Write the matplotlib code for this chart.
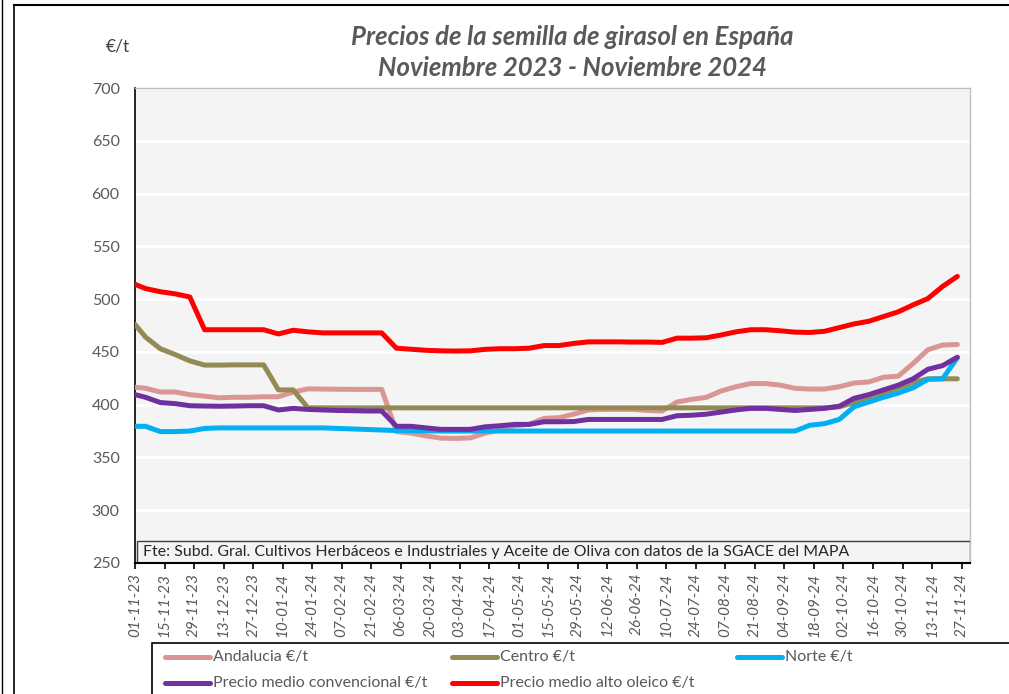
import matplotlib
matplotlib.use("Agg")
import matplotlib.pyplot as plt
from matplotlib.patches import Rectangle
from matplotlib.lines import Line2D
import pandas as pd

plt.rcParams['font.family'] = ['Lato', 'DejaVu Sans']

dates = ["2023-11-01",
         "2023-11-06", "2023-11-13", "2023-11-20", "2023-11-27",
         "2023-12-04", "2023-12-11", "2023-12-18", "2023-12-25",
         "2024-01-01", "2024-01-08", "2024-01-15", "2024-01-22", "2024-01-29",
         "2024-02-05", "2024-02-12", "2024-02-19", "2024-02-26",
         "2024-03-04", "2024-03-11", "2024-03-18", "2024-03-25",
         "2024-04-01", "2024-04-08", "2024-04-15", "2024-04-22", "2024-04-29",
         "2024-05-06", "2024-05-13", "2024-05-20", "2024-05-27",
         "2024-06-03", "2024-06-10", "2024-06-17", "2024-06-24",
         "2024-07-01", "2024-07-08", "2024-07-15", "2024-07-22", "2024-07-29",
         "2024-08-05", "2024-08-12", "2024-08-19", "2024-08-26",
         "2024-09-02", "2024-09-09", "2024-09-16", "2024-09-23", "2024-09-30",
         "2024-10-07", "2024-10-14", "2024-10-21", "2024-10-28",
         "2024-11-04", "2024-11-11", "2024-11-18", "2024-11-25"]

andalucia = [416.5, 415.5, 412, 412, 409.5, 408, 406.5, 407, 407, 407.5,
             407.5, 412, 415, 414.8, 414.6, 414.5, 414.5, 414.5, 374.5, 373,
             370.5, 368.3, 368, 368.5, 373, 376, 380, 381.5, 387, 387.6,
             391, 395, 395.5, 395.5, 395.5, 394.5, 394, 402.5, 405, 407,
             413, 417, 420, 420, 418.5, 415.5, 414.8, 414.8, 417, 420.5,
             421.5, 426, 427, 439, 452, 456.5, 457]

centro = [476, 464, 453, 447.5, 441.5, 437.5, 437.5, 437.7, 437.7, 437.7,
          414, 414, 397, 397, 397, 397, 397, 397, 397, 397,
          397, 397, 397, 397, 397, 397, 397, 397, 397, 397,
          397, 397, 397, 397, 397, 397, 397, 397, 397, 397,
          397, 397, 397, 397, 397, 397, 397, 397, 398, 402,
          407, 411, 416, 421, 424.5, 424.5, 424.5]

norte = [379.5, 379.5, 374.5, 374.5, 375, 377.5, 378, 378, 378, 378,
         378, 378, 378, 378, 377.5, 377, 376.5, 376, 375.5, 375.3,
         375.2, 375, 375, 375, 375, 375, 375, 375, 375, 375,
         375, 375, 375, 375, 375, 375, 375, 375, 375, 375,
         375, 375, 375, 375, 375, 375, 380.5, 382, 386, 398,
         402.5, 407, 411, 416, 424, 424.5, 444.5]

convencional = [409.5, 407, 402, 401, 399, 398.7, 398.5, 398.7, 399, 399,
                395, 396.5, 395.5, 395, 394.5, 394.3, 394, 394, 379.5, 379.5,
                378, 376.6, 376.6, 376.6, 379, 380, 381.3, 381.3, 383.8, 383.8,
                384, 386, 386, 386, 386, 386, 386, 389.5, 390, 391,
                393, 395, 396.5, 396.5, 395.5, 394.5, 395.5, 396.5, 398.5, 406,
                409.5, 414, 418.5, 424.5, 433.5, 437, 445]

alto_oleico = [514, 510, 507, 505, 502, 471, 471, 471, 471, 471,
               467, 470.5, 469, 468, 468, 468, 468, 468, 453.5, 452.5,
               451.5, 451, 450.8, 451, 452.4, 453, 453, 453.5, 456, 456,
               458, 459.5, 459.5, 459.5, 459.3, 459.3, 459, 463, 463, 463.4,
               466, 469, 471, 471, 470, 468.7, 468.4, 469.5, 473, 476.5,
               479, 483.5, 488, 494.5, 500.5, 512, 521.5]

tick_labels = ["01-11-23", "15-11-23", "29-11-23", "13-12-23", "27-12-23",
               "10-01-24", "24-01-24", "07-02-24", "21-02-24", "06-03-24",
               "20-03-24", "03-04-24", "17-04-24", "01-05-24", "15-05-24",
               "29-05-24", "12-06-24", "26-06-24", "10-07-24", "24-07-24",
               "07-08-24", "21-08-24", "04-09-24", "18-09-24", "02-10-24",
               "16-10-24", "30-10-24", "13-11-24", "27-11-24"]

series = [
    ("Andalucia €/t", andalucia, "#D99694"),
    ("Centro €/t", centro, "#948A54"),
    ("Norte €/t", norte, "#00B0F0"),
    ("Precio medio convencional €/t", convencional, "#7030A0"),
    ("Precio medio alto oleico €/t", alto_oleico, "#FF0000"),
]

x = pd.to_datetime(dates)
tick_pos = pd.to_datetime(tick_labels, format="%d-%m-%y")

W, H = 1009, 694
fig = plt.figure(figsize=(W / 100, H / 100), dpi=100)
fig.patch.set_facecolor("white")

ax = fig.add_axes([135 / W, 1 - 563 / H, 835 / W, 475 / H])
ax.set_facecolor("#F4F4F4")

handles = []
for name, vals, col in series:
    ln, = ax.plot(x, vals, color=col, lw=3.6, solid_joinstyle="round",
                  solid_capstyle="round", label=name, zorder=3)
    handles.append(ln)

ax.set_ylim(250, 700)
ax.set_yticks(range(250, 701, 50))
ax.set_xlim(pd.Timestamp("2023-11-01"), pd.Timestamp("2024-12-01"))
ax.set_xticks(tick_pos)
ax.set_xticklabels(tick_labels, rotation=90, fontstyle="italic",
                   fontsize=11, color="#595959")
ax.grid(axis="y", color="white", lw=2, zorder=1)
ax.set_axisbelow(True)

ax.tick_params(axis="y", length=0, labelsize=11.5, labelcolor="#595959", pad=11)
ax.tick_params(axis="x", direction="out", length=4, width=1.2, color="black", pad=3)

for s in ["top", "right"]:
    ax.spines[s].set_color("#BFBFBF")
    ax.spines[s].set_linewidth(1)
ax.spines["left"].set_color("black")
ax.spines["left"].set_linewidth(1.2)
ax.spines["bottom"].set_color("black")
ax.spines["bottom"].set_linewidth(1.5)
ax.spines["bottom"].set_zorder(6)

# source box
ax.add_patch(Rectangle((2 / 835, 0), 1 - 2 / 835, 22 / 475, transform=ax.transAxes,
                       facecolor="#F4F4F4", edgecolor="#404040", lw=1, zorder=5))
ax.text(8 / 835, 11 / 475,
        "Fte: Subd. Gral. Cultivos Herbáceos e Industriales y Aceite de Oliva con datos de la SGACE del MAPA",
        transform=ax.transAxes, fontsize=11.45, color="#262626", va="center", ha="left", zorder=6)

# titles
fig.text(572 / W, 1 - 37 / H, "Precios de la semilla de girasol en España",
         ha="center", va="center", fontsize=18.5, fontweight="bold",
         fontstyle="italic", color="#595959")
fig.text(572 / W, 1 - 68 / H, "Noviembre 2023 - Noviembre 2024",
         ha="center", va="center", fontsize=18.5, fontweight="bold",
         fontstyle="italic", color="#595959")
fig.text(118 / W, 1 - 47 / H, "€/t", ha="center", va="center", fontsize=12.5, color="#404040")

# frame lines
fig.add_artist(Line2D([2 / W, 2 / W], [0, 1], color="black", lw=1))
fig.add_artist(Line2D([14 / W, 14 / W], [0, 1 - 5 / H], color="black", lw=1.2))
fig.add_artist(Line2D([14 / W, 1], [1 - 5 / H, 1 - 5 / H], color="black", lw=1.5))

# legend (manual, row-wise like the reference)
fig.add_artist(Rectangle((152 / W, -0.05), 1.0, (1 - 643 / H) + 0.05,
                         transform=fig.transFigure, facecolor="white",
                         edgecolor="black", lw=1.2))
col_x = [165, 452, 737]
row_y = [657, 683]
for k, h in enumerate(handles):
    r, c = divmod(k, 3)
    x0 = col_x[c]
    y0 = 1 - row_y[r] / H
    fig.add_artist(Line2D([x0 / W, (x0 + 45) / W], [y0, y0], color=h.get_color(),
                          lw=3.6, solid_capstyle="round"))
    fig.text((x0 + 48) / W, y0, h.get_label(), ha="left", va="center",
             fontsize=11.5, color="#595959")

fig.savefig("out.png", dpi=100)
